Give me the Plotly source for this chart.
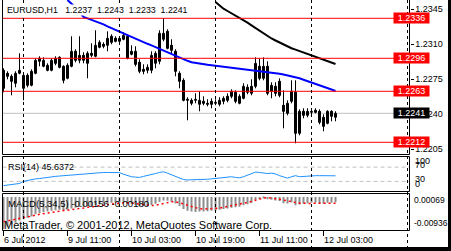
import plotly.graph_objects as go

W, H = 451, 251

# ---------------- data ----------------
bar_idx = list(range(84))
opens = [1.2284, 1.2281, 1.2278, 1.2271, 1.2281, 1.2266, 1.2279, 1.2269, 1.2281, 1.2293,
         1.2288, 1.2289, 1.2284, 1.2296, 1.2297, 1.2288, 1.2276, 1.2288, 1.2303, 1.2294,
         1.2299, 1.2291, 1.2301, 1.2298, 1.2307, 1.2310, 1.2309, 1.2318, 1.2316, 1.2313,
         1.2315, 1.2318, 1.2300, 1.2303, 1.2292, 1.2285, 1.2284, 1.2284, 1.2291, 1.2293,
         1.2315, 1.2323, 1.2309, 1.2303, 1.2281, 1.2274, 1.2255, 1.2254, 1.2254, 1.2250,
         1.2253, 1.2251, 1.2253, 1.2251, 1.2250, 1.2253, 1.2258, 1.2258, 1.2262, 1.2251,
         1.2256, 1.2267, 1.2261, 1.2268, 1.2288, 1.2276, 1.2288, 1.2263, 1.2268, 1.2273,
         1.2249, 1.2241, 1.2253, 1.2262, 1.2221, 1.2243, 1.2239, 1.2242, 1.2244, 1.2243,
         1.2237, 1.2231, 1.2243, 1.2237]
highs = [1.2286, 1.2283, 1.2280, 1.2283, 1.2301, 1.2281, 1.2281, 1.2285, 1.2296, 1.2298,
         1.2297, 1.2291, 1.2296, 1.2298, 1.2298, 1.2289, 1.2291, 1.2318, 1.2305, 1.2318,
         1.2302, 1.2303, 1.2311, 1.2324, 1.2314, 1.2312, 1.2323, 1.2320, 1.2318, 1.2318,
         1.2322, 1.2320, 1.2309, 1.2308, 1.2295, 1.2290, 1.2290, 1.2303, 1.2303, 1.2324,
         1.2336, 1.2325, 1.2315, 1.2305, 1.2283, 1.2276, 1.2257, 1.2256, 1.2261, 1.2263,
         1.2258, 1.2255, 1.2256, 1.2255, 1.2257, 1.2258, 1.2261, 1.2265, 1.2264, 1.2260,
         1.2271, 1.2270, 1.2275, 1.2297, 1.2296, 1.2297, 1.2293, 1.2272, 1.2272, 1.2276,
         1.2264, 1.2254, 1.2274, 1.2274, 1.2245, 1.2246, 1.2246, 1.2245, 1.2246, 1.2245,
         1.2240, 1.2244, 1.2244, 1.2243]
lows = [1.2262, 1.2275, 1.2259, 1.2267, 1.2280, 1.2254, 1.2267, 1.2268, 1.2280, 1.2288,
        1.2287, 1.2283, 1.2283, 1.2289, 1.2286, 1.2271, 1.2275, 1.2287, 1.2292, 1.2291,
        1.2291, 1.2276, 1.2297, 1.2297, 1.2306, 1.2306, 1.2303, 1.2310, 1.2312, 1.2311,
        1.2314, 1.2295, 1.2299, 1.2288, 1.2281, 1.2280, 1.2281, 1.2281, 1.2286, 1.2290,
        1.2313, 1.2305, 1.2301, 1.2278, 1.2266, 1.2253, 1.2234, 1.2249, 1.2251, 1.2243,
        1.2249, 1.2248, 1.2246, 1.2249, 1.2248, 1.2250, 1.2252, 1.2256, 1.2251, 1.2250,
        1.2255, 1.2260, 1.2259, 1.2266, 1.2274, 1.2274, 1.2259, 1.2256, 1.2258, 1.2257,
        1.2226, 1.2239, 1.2251, 1.2211, 1.2219, 1.2236, 1.2237, 1.2240, 1.2241, 1.2230,
        1.2223, 1.2230, 1.2233, 1.2233]
closes = [1.2266, 1.2278, 1.2273, 1.2281, 1.2284, 1.2279, 1.2269, 1.2283, 1.2294, 1.2296,
          1.2294, 1.2284, 1.2294, 1.2291, 1.2287, 1.2274, 1.2289, 1.2303, 1.2294, 1.2299,
          1.2294, 1.2301, 1.2299, 1.2309, 1.2312, 1.2308, 1.2316, 1.2312, 1.2313, 1.2316,
          1.2319, 1.2296, 1.2303, 1.2290, 1.2283, 1.2283, 1.2287, 1.2299, 1.2301, 1.2321,
          1.2321, 1.2306, 1.2304, 1.2283, 1.2273, 1.2254, 1.2254, 1.2251, 1.2255, 1.2254,
          1.2251, 1.2250, 1.2250, 1.2252, 1.2254, 1.2256, 1.2254, 1.2263, 1.2253, 1.2258,
          1.2268, 1.2262, 1.2268, 1.2291, 1.2276, 1.2288, 1.2261, 1.2269, 1.2261, 1.2259,
          1.2243, 1.2251, 1.2263, 1.2221, 1.2243, 1.2239, 1.2243, 1.2243, 1.2242, 1.2232,
          1.2228, 1.2243, 1.2238, 1.2241]

ma_blue_start = 16
ma_blue = [1.23543, 1.23508, 1.23468, 1.23420, 1.23373, 1.23359, 1.23345, 1.23331, 1.23317, 1.23300,
           1.23280, 1.23262, 1.23243, 1.23224, 1.23206, 1.23187, 1.23169, 1.23153, 1.23137, 1.23121,
           1.23105, 1.23089, 1.23071, 1.23053, 1.23035, 1.23017, 1.23000, 1.22982, 1.22965, 1.22950,
           1.22935, 1.22921, 1.22913, 1.22905, 1.22899, 1.22895, 1.22890, 1.22885, 1.22881, 1.22878,
           1.22875, 1.22871, 1.22865, 1.22859, 1.22853, 1.22847, 1.22842, 1.22838, 1.22834, 1.22830,
           1.22826, 1.22821, 1.22813, 1.22805, 1.22797, 1.22789, 1.22781, 1.22773, 1.22760, 1.22746,
           1.22733, 1.22719, 1.22703, 1.22689, 1.22675, 1.22663, 1.22648, 1.22633]
ma_black_start = 53
ma_black = [1.23523, 1.23485, 1.23456, 1.23433, 1.23411, 1.23390, 1.23369, 1.23343, 1.23317, 1.23290,
            1.23263, 1.23236, 1.23210, 1.23183, 1.23158, 1.23138, 1.23118, 1.23098, 1.23079, 1.23061,
            1.23047, 1.23033, 1.23019, 1.23006, 1.22993, 1.22979, 1.22964, 1.22950, 1.22936, 1.22921,
            1.22903]

rsi = [18, 19, 20, 22, 24, 30, 33, 35, 37, 38,
       40, 41, 43, 44, 45, 46, 48, 49, 50, 51,
       52, 53, 53.5, 54, 54.5, 55, 55, 55, 55, 54.5,
       50, 46, 43, 42, 41, 44, 46, 48, 52, 55,
       57, 53, 49, 44, 39, 35, 34, 34, 34.5, 34.5,
       35, 36, 37, 38, 39, 40, 41, 43, 41, 40,
       43, 47, 50, 56, 55, 53, 52, 53, 51, 46,
       42, 39, 43, 46, 43, 44, 46, 46, 46, 46,
       46, 46, 45.5, 45.6372]

macd_main = [-0.0093, -0.0085, -0.0079, -0.0074, -0.0068, -0.0064, -0.0060, -0.0056, -0.0050, -0.0046,
             -0.0043, -0.0042, -0.0040, -0.0038, -0.0037, -0.0038, -0.0037, -0.0033, -0.0031, -0.0029,
             -0.0028, -0.0027, -0.0026, -0.0023, -0.0021, -0.0020, -0.0018, -0.0017, -0.0017, -0.0016,
             -0.0015, -0.0019, -0.0020, -0.0023, -0.0026, -0.0027, -0.0027, -0.0023, -0.0020, -0.0014,
             -0.0010, -0.0011, -0.0013, -0.0019, -0.0026, -0.0035, -0.0040, -0.0042, -0.0043, -0.0042,
             -0.0042, -0.0041, -0.0040, -0.0039, -0.0037, -0.0035, -0.0033, -0.0031, -0.0030, -0.0028,
             -0.0024, -0.0021, -0.0017, -0.0008, -0.0006, -0.0004, -0.0007, -0.0008, -0.0010, -0.0012,
             -0.0018, -0.0019, -0.0015, -0.0024, -0.0022, -0.0020, -0.0018, -0.0017, -0.0016, -0.0018,
             -0.0020, -0.0017, -0.0017, -0.00156]
macd_signal = [-0.0071, -0.0069, -0.0067, -0.0065, -0.0063, -0.0060, -0.0058, -0.0055, -0.0052, -0.0050,
               -0.0048, -0.0045, -0.0043, -0.0041, -0.0040, -0.0039, -0.0038, -0.0037, -0.0036, -0.0034,
               -0.0032, -0.0030, -0.0029, -0.0027, -0.0025, -0.0024, -0.0022, -0.0020, -0.0019, -0.0018,
               -0.0017, -0.0016, -0.0017, -0.0019, -0.0021, -0.0023, -0.0024, -0.0025, -0.0024, -0.0021,
               -0.0018, -0.0015, -0.0014, -0.0014, -0.0016, -0.0020, -0.0024, -0.0028, -0.0032, -0.0034,
               -0.0035, -0.0035, -0.0034, -0.0033, -0.0032, -0.0030, -0.0028, -0.0026, -0.0024, -0.0022,
               -0.0019, -0.0016, -0.0013, -0.0009, -0.0006, -0.0003, -0.0002, -0.0003, -0.0005, -0.0007,
               -0.0009, -0.0012, -0.0014, -0.0016, -0.0018, -0.0019, -0.0019, -0.0019, -0.0018, -0.0018,
               -0.0018, -0.0018, -0.0018, -0.0018]

h_levels = [1.2336, 1.2296, 1.2263, 1.2212]
bid = 1.2241
price_ticks = [1.2345, 1.2310, 1.2275, 1.2240, 1.2205]
price_range = [1.22003, 1.23543]
rsi_levels = [70, 30]
macd_range = [-0.00936, 0.00069]
time_tick_idx = [0, 16, 32, 48, 64, 80]
time_labels = ["6 Jul 2012", "9 Jul 11:00", "10 Jul 03:00", "10 Jul 19:00", "11 Jul 11:00", "12 Jul 03:00"]
separator_idx = [5, 29, 53, 77, 101]
symbol_name = "EURUSD,H1"
ohlc_last = ["1.2237", "1.2243", "1.2233", "1.2241"]
rsi_text = "RSI(14) 45.6372"
macd_text = "MACD(5,34,5) -0.00156 -0.00180"
copyright_text = "MetaTrader, © 2001-2012, MetaQuotes Software Corp."

FONT = "Liberation Sans"
FS = 9
NB = "\u00a0"


def px(x):
    return x / W


def py(y):
    return 1 - y / H


fig = go.Figure()

# candle wicks
wx, wy = [], []
for i, lo, hi in zip(bar_idx, lows, highs):
    wx += [i, i, None]
    wy += [lo, hi, None]
fig.add_trace(go.Scatter(x=wx, y=wy, mode="lines", line=dict(color="black", width=1),
                         xaxis="x", yaxis="y", hoverinfo="skip"))

# candle bodies
base = [min(o, c) for o, c in zip(opens, closes)]
height = [max(abs(c - o), 0.00002) for o, c in zip(opens, closes)]
fill = ["white" if c >= o else "black" for o, c in zip(opens, closes)]
fig.add_trace(go.Bar(x=bar_idx, y=height, base=base, width=0.5,
                     marker=dict(color=fill, line=dict(color="black", width=1)),
                     xaxis="x", yaxis="y", hoverinfo="skip"))

# moving averages
fig.add_trace(go.Scatter(x=bar_idx[ma_blue_start:], y=ma_blue, mode="lines",
                         line=dict(color="#0000FF", width=2), xaxis="x", yaxis="y"))
fig.add_trace(go.Scatter(x=bar_idx[ma_black_start:], y=ma_black, mode="lines",
                         line=dict(color="#000000", width=2), xaxis="x", yaxis="y"))

# RSI
fig.add_trace(go.Scatter(x=bar_idx, y=rsi, mode="lines", line=dict(color="#1E90FF", width=1),
                         xaxis="x", yaxis="y2"))

# MACD
fig.add_trace(go.Bar(x=bar_idx, y=macd_main, width=0.5, marker=dict(color="#8C8C8C", line=dict(width=0)),
                     xaxis="x", yaxis="y3"))
fig.add_trace(go.Scatter(x=bar_idx, y=macd_signal, mode="lines",
                         line=dict(color="#FF0000", width=1.5, dash="2px,3px"), xaxis="x", yaxis="y3"))

shapes = []
shapes.append(dict(type="line", xref="paper", yref="y", x0=px(2.5), x1=px(409.5), y0=bid, y1=bid,
                   line=dict(color="#C0C0C0", width=1), layer="below"))
for lv in h_levels:
    shapes.append(dict(type="line", xref="paper", yref="y", x0=px(2.5), x1=px(409.5), y0=lv, y1=lv,
                       line=dict(color="#FF0000", width=1), layer="above"))
for lv in rsi_levels:
    shapes.append(dict(type="line", xref="paper", yref="y2", x0=px(2.5), x1=px(409.5), y0=lv, y1=lv,
                       line=dict(color="#C0C0C0", width=1, dash="4px,3px"), layer="below"))
for s in separator_idx:
    shapes.append(dict(type="line", xref="x", yref="paper", x0=s, x1=s, y0=py(0), y1=py(247),
                       line=dict(color="black", width=1, dash="3px,3px"), layer="above"))
for (t, b) in [(-2, 154.5), (156.5, 191.5), (193.5, 230.5)]:
    shapes.append(dict(type="rect", xref="paper", yref="paper", x0=px(2.5), x1=px(409.5),
                       y0=py(b), y1=py(t), line=dict(color="black", width=1), layer="above"))
shapes.append(dict(type="rect", xref="paper", yref="paper", x0=px(448), x1=1, y0=0, y1=1,
                   fillcolor="black", line=dict(width=0)))
shapes.append(dict(type="rect", xref="paper", yref="paper", x0=0, x1=1, y0=0, y1=py(247),
                   fillcolor="black", line=dict(width=0)))

ann = []
for lv in h_levels:
    ann.append(dict(xref="paper", yref="y", x=px(429.5), y=lv, text=f"{lv:.4f}", showarrow=False,
                    bgcolor="#FF0000", width=33, height=8, borderpad=1,
                    font=dict(family=FONT, size=FS, color="white")))
ann.append(dict(xref="paper", yref="y", x=px(429.5), y=bid, text=f"{bid:.4f}", showarrow=False,
                bgcolor="black", width=33, height=8, borderpad=1,
                font=dict(family=FONT, size=FS, color="white")))
symbol_text = symbol_name + NB * 3 + (NB * 2).join(ohlc_last)
ann.append(dict(xref="paper", yref="paper", x=px(6), y=py(10), xanchor="left", yanchor="middle",
                text=symbol_text, showarrow=False, bgcolor="white", borderpad=0,
                font=dict(family=FONT, size=8.8, color="black")))
ann.append(dict(xref="paper", yref="paper", x=px(6), y=py(166.5), xanchor="left", yanchor="middle",
                text=rsi_text, showarrow=False, font=dict(family=FONT, size=FS, color="black")))
ann.append(dict(xref="paper", yref="paper", x=px(6), y=py(203), xanchor="left", yanchor="middle",
                text=macd_text, showarrow=False, font=dict(family=FONT, size=9.5, color="black")))
ann.append(dict(xref="paper", yref="paper", x=px(2), y=py(224.5), xanchor="left", yanchor="middle",
                text=copyright_text, showarrow=False, font=dict(family=FONT, size=11, color="black")))
for txt, yy in [("100", 160.5), ("70", 164.5), ("30", 179), ("0", 184)]:
    ann.append(dict(xref="paper", yref="paper", x=px(413), y=py(yy), xanchor="left", yanchor="middle",
                    text=txt, showarrow=False, font=dict(family=FONT, size=FS, color="black")))
for v, yy in [(macd_range[1], 199.5), (macd_range[0], 222.5)]:
    ann.append(dict(xref="paper", yref="paper", x=px(412), y=py(yy), xanchor="left", yanchor="middle",
                    text=f"{v:.5f}", showarrow=False, font=dict(family=FONT, size=8.5, color="black")))
for i, lab in zip(time_tick_idx, time_labels):
    ann.append(dict(xref="x", yref="paper", x=i, y=py(240), xanchor="left", yanchor="middle", xshift=-2,
                    text=lab, showarrow=False, font=dict(family=FONT, size=FS, color="black")))

fig.update_layout(
    width=W, height=H, margin=dict(l=0, r=0, t=0, b=0),
    paper_bgcolor="white", plot_bgcolor="white", showlegend=False, barmode="overlay",
    xaxis=dict(domain=[px(2.5), px(409.5)], range=[-0.25, 101.5], anchor="y3",
               showgrid=False, zeroline=False, showticklabels=False, showline=False,
               ticks="outside", ticklen=5, tickcolor="black", tickvals=time_tick_idx),
    yaxis=dict(domain=[py(154), 1], range=price_range, side="right", anchor="x",
               showgrid=False, zeroline=False, showline=False,
               tickvals=price_ticks, ticktext=[f"{t:.4f}" for t in price_ticks],
               ticks="outside", ticklen=3, tickcolor="black",
               tickfont=dict(family=FONT, size=FS, color="black")),
    yaxis2=dict(domain=[py(192), py(156.5)], range=[0, 100], anchor="x",
                showgrid=False, zeroline=False, showticklabels=False, showline=False),
    yaxis3=dict(domain=[py(229.5), py(194.5)], range=macd_range, anchor="x",
                showgrid=False, zeroline=False, showticklabels=False, showline=False),
    shapes=shapes, annotations=ann,
)

fig.write_html("out.html")
